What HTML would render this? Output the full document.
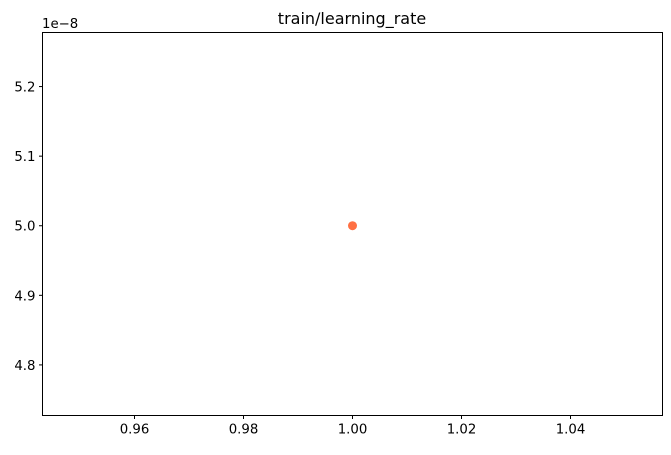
<!DOCTYPE html>
<html><head><meta charset="utf-8"><style>
body{margin:0;background:#fff;width:671px;height:451px;overflow:hidden;font-family:"DejaVu Sans","Liberation Sans",sans-serif;}
</style></head><body>
<svg id="chart" width="671" height="451" xmlns="http://www.w3.org/2000/svg" font-family="DejaVu Sans, Liberation Sans, sans-serif">
<rect width="671" height="451" fill="#fff"/>
<text x="352" y="24" font-size="16" text-anchor="middle" fill="#000">train/learning_rate</text>
<text x="42" y="28" font-size="13.3" fill="#000">1e−8</text>
<g id="ticks"></g>
<g id="points"></g>
<rect x="42.5" y="32.5" width="620" height="383" fill="none" stroke="#000" stroke-width="1"/>
</svg>
<script>
const xTicks = [0.96, 0.98, 1.00, 1.02, 1.04];
const xTickLabels = ["0.96", "0.98", "1.00", "1.02", "1.04"];
const yTicks = [4.8, 4.9, 5.0, 5.1, 5.2];
const yTickLabels = ["4.8", "4.9", "5.0", "5.1", "5.2"];
const xValues = [1.0];
const yValues = [5.0];

const L = 42.5, R = 662.5, T = 32.5, B = 415.5;
const xMin = 0.94312, xMax = 1.05688, yMin = 4.7273, yMax = 5.2777;
const sx = v => L + (v - xMin) / (xMax - xMin) * (R - L);
const sy = v => B - (v - yMin) / (yMax - yMin) * (B - T);
const NS = "http://www.w3.org/2000/svg";
const tg = document.getElementById('ticks');
function mk(tag, attrs, parent) {
  const e = document.createElementNS(NS, tag);
  for (const k in attrs) e.setAttribute(k, attrs[k]);
  parent.appendChild(e);
  return e;
}
xTicks.forEach((v, i) => {
  const x = sx(v);
  const l = mk('line', {x1: x, x2: x, y1: B, y2: B + 3.5, stroke: '#000'}, tg);
  
  
  const t = mk('text', {x: x, y: B + 18, 'font-size': 13.3, 'text-anchor': 'middle', fill: '#000'}, tg);
  t.textContent = xTickLabels[i];
  
  
});
yTicks.forEach((v, i) => {
  const y = sy(v);
  const l = mk('line', {x1: L - 3.5, x2: L, y1: y, y2: y, stroke: '#000'}, tg);
  
  
  const t = mk('text', {x: L - 7, y: y + 5, 'font-size': 13.3, 'text-anchor': 'end', fill: '#000'}, tg);
  t.textContent = yTickLabels[i];
  
  
});
const pg = document.getElementById('points');
xValues.forEach((v, i) => {
  const c = mk('circle', {cx: sx(v), cy: sy(yValues[i]), r: 4.5, fill: '#ff7043'}, pg);
  
  
});
</script>
</body></html>
